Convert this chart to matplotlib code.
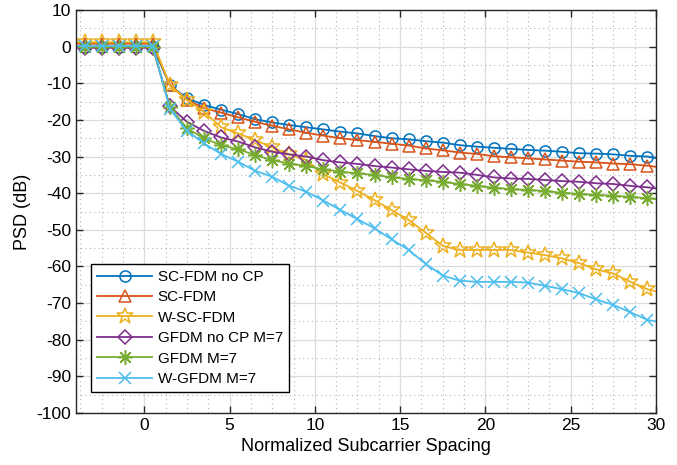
import numpy as np
import matplotlib
matplotlib.use('Agg')
from matplotlib import pyplot as plt
from matplotlib.ticker import MultipleLocator

plt.rcParams['font.family'] = ['Liberation Sans', 'DejaVu Sans']
plt.rcParams['axes.unicode_minus'] = False

# eje x: bordes -4 y 30, marcadores en los semienteros
x = [-4] + list(np.arange(-3.5, 30, 1.0)) + [30]

sc_nocp = [0, 0, 0, 0, 0, 0,
           -10.5, -14.1, -15.9, -17.2, -18.4, -19.8, -20.7, -21.4, -22.0, -22.6,
           -23.2, -23.7, -24.4, -25.0, -25.3, -25.8, -26.2, -26.9, -27.3, -27.6,
           -27.9, -28.2, -28.4, -28.7, -29.1, -29.2, -29.4, -29.8, -30.0, -30.4]
sc = [0.8, 0.8, 0.8, 0.8, 0.8, 0.8,
      -10.5, -14.5, -16.8, -18.0, -19.3, -20.5, -21.6, -22.6, -23.5, -24.3,
      -25.0, -25.5, -26.0, -26.5, -27.0, -27.8, -28.3, -28.9, -29.3, -29.9,
      -30.2, -30.5, -30.8, -31.1, -31.4, -31.6, -31.9, -32.1, -32.5, -32.8]
wsc = [1.2, 1.2, 1.2, 1.2, 1.2, 1.2,
       -10.5, -14.5, -17.8, -22.0, -23.7, -25.5, -27.5, -29.4, -31.0, -34.8,
       -37.1, -39.4, -41.9, -44.6, -47.3, -50.8, -54.4, -55.5, -55.5, -55.5,
       -55.5, -56.2, -56.9, -57.8, -59.1, -60.8, -61.9, -64.2, -66.2, -66.8]
gfdm_nocp = [-0.3, -0.3, -0.3, -0.3, -0.3, -0.3,
             -16.3, -20.5, -23.0, -24.8, -25.9, -27.5, -28.7, -29.4, -30.0, -31.0,
             -31.6, -32.0, -32.6, -33.0, -33.5, -33.9, -34.2, -34.4, -35.0, -35.7,
             -36.0, -36.1, -36.4, -36.7, -36.9, -37.3, -37.5, -38.0, -38.4, -38.7]
gfdm = [0, 0, 0, 0, 0, 0,
        -16.5, -22.3, -25.0, -26.9, -28.0, -29.6, -31.0, -31.9, -32.6, -33.5,
        -34.1, -34.6, -35.0, -35.7, -36.1, -36.5, -36.9, -37.5, -38.0, -38.5,
        -38.9, -39.1, -39.4, -39.9, -40.2, -40.5, -40.7, -41.0, -41.4, -41.6]
wgfdm = [0.2, 0.2, 0.2, 0.2, 0.2, 0.2,
         -17.0, -23.0, -26.4, -29.3, -31.4, -33.9, -35.5, -38.0, -39.6, -42.0,
         -44.6, -47.1, -49.6, -52.6, -55.5, -59.3, -62.5, -63.9, -64.2, -64.2,
         -64.2, -64.4, -65.3, -66.2, -67.3, -69.0, -70.5, -72.5, -74.6, -75.0]

series = [
    (sc_nocp, 'SC-FDM no CP', '#0072BD', 'o', 8),
    (sc, 'SC-FDM', '#D95319', '^', 8.5),
    (wsc, 'W-SC-FDM', '#EDB120', '*', 12),
    (gfdm_nocp, 'GFDM no CP M=7', '#7E2F8E', 'D', 7),
    (gfdm, 'GFDM M=7', '#77AC30', (8, 2, 0), 10.5),
    (wgfdm, 'W-GFDM M=7', '#4DBEEE', 'x', 8.5),
]

fig = plt.figure(figsize=(6.77, 4.65), dpi=100)
ax = fig.add_axes([0.1123, 0.1118, 0.8567, 0.8667])

for y, lab, col, mk, ms in series:
    ax.plot(x, y, '-', color=col, marker=mk, ms=ms, mfc='none', mec=col,
            mew=1.1, lw=1.3, label=lab, markevery=slice(1, -1))

ax.set_xlim(-4, 30)
ax.set_ylim(-100, 10)
ax.xaxis.set_major_locator(MultipleLocator(5))
ax.yaxis.set_major_locator(MultipleLocator(10))
ax.xaxis.set_minor_locator(MultipleLocator(1.25))
ax.yaxis.set_minor_locator(MultipleLocator(5))
ax.grid(True, which='major', color='#dcdcdc', lw=0.9)
ax.grid(True, which='minor', color='#b5b5b5', lw=0.8, ls=(0, (1, 3)))
ax.set_axisbelow(True)
ax.tick_params(which='major', direction='in', top=True, right=True,
               length=5, width=1, labelsize=12.5, colors='#262626',
               labelcolor='black')
ax.tick_params(which='minor', length=0)
for s in ax.spines.values():
    s.set_color('#262626')
    s.set_linewidth(1)

ax.set_xlabel('Normalized Subcarrier Spacing', fontsize=13)
ax.set_ylabel('PSD (dB)', fontsize=13)

leg = ax.legend(loc='lower left', bbox_to_anchor=(0.026, 0.052),
                borderaxespad=0, fontsize=11, numpoints=1, handlelength=3.6,
                handletextpad=0.35, labelspacing=0.42, fancybox=False,
                framealpha=1, edgecolor='black', borderpad=0.4)
leg.get_frame().set_linewidth(1)

plt.savefig('out.png', dpi=100)
